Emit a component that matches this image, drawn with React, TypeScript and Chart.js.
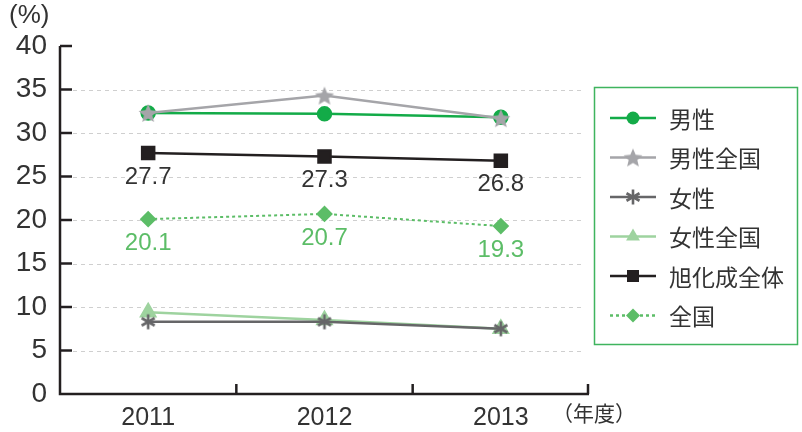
import React, { useEffect, useRef } from "react";
import { Chart, registerables } from "chart.js";
import { drawPoint } from "chart.js/helpers";

Chart.register(...registerables);

const years = ["2011", "2012", "2013"];
const maleValues = [32.3, 32.2, 31.8];
const maleNationalValues = [32.3, 34.3, 31.7];
const femaleValues = [8.3, 8.3, 7.5];
const femaleNationalValues = [9.4, 8.5, 7.5];
const asahiTotalValues = [27.7, 27.3, 26.8];
const nationalValues = [20.1, 20.7, 19.3];
const yTicks = [0, 5, 10, 15, 20, 25, 30, 35, 40];

const FONT = "'Liberation Sans', 'Noto Sans CJK JP', sans-serif";
const CJK = "'Noto Sans CJK JP', sans-serif";

function makeStar(color: string) {
  const c = document.createElement("canvas");
  const s = 22;
  c.width = s;
  c.height = s;
  const ctx = c.getContext("2d")!;
  ctx.fillStyle = color;
  ctx.beginPath();
  for (let i = 0; i < 10; i++) {
    const r = i % 2 === 0 ? 10 : 4.5;
    const a = -Math.PI / 2 + (i * Math.PI) / 5;
    const x = s / 2 + r * Math.cos(a);
    const y = s / 2 + 1 + r * Math.sin(a);
    if (i === 0) ctx.moveTo(x, y);
    else ctx.lineTo(x, y);
  }
  ctx.closePath();
  ctx.fill();
  return c;
}

function makeAsterisk(color: string) {
  const c = document.createElement("canvas");
  const s = 18;
  c.width = s;
  c.height = s;
  const ctx = c.getContext("2d")!;
  ctx.strokeStyle = color;
  ctx.lineWidth = 2.6;
  ctx.lineCap = "butt";
  for (let i = 0; i < 3; i++) {
    const a = Math.PI / 2 + (i * Math.PI) / 3;
    const r = 7.5;
    ctx.beginPath();
    ctx.moveTo(s / 2 + r * Math.cos(a), s / 2 + r * Math.sin(a));
    ctx.lineTo(s / 2 - r * Math.cos(a), s / 2 - r * Math.sin(a));
    ctx.stroke();
  }
  return c;
}

export default function App() {
  const ref = useRef<HTMLCanvasElement | null>(null);

  useEffect(() => {
    if (!ref.current) return;
    const star = makeStar("#a5a5a9");
    const asterisk = makeAsterisk("#666668");

    const datasets: any[] = [
      {
        label: "男性",
        data: maleValues,
        borderColor: "#13ab48",
        backgroundColor: "#13ab48",
        borderWidth: 2.5,
        pointStyle: "circle",
        pointRadius: 6.5,
        order: 2,
      },
      {
        label: "男性全国",
        data: maleNationalValues,
        borderColor: "#a5a5a9",
        backgroundColor: "#a5a5a9",
        borderWidth: 2.5,
        pointStyle: star,
        pointRadius: 9,
        order: 1,
      },
      {
        label: "女性",
        data: femaleValues,
        borderColor: "#666668",
        backgroundColor: "#666668",
        borderWidth: 2.5,
        pointStyle: asterisk,
        pointRadius: 8,
        order: 0,
      },
      {
        label: "女性全国",
        data: femaleNationalValues,
        borderColor: "#9ed39f",
        backgroundColor: "#9ed39f",
        borderWidth: 2.5,
        pointStyle: "triangle",
        pointRadius: 8,
        order: 3,
      },
      {
        label: "旭化成全体",
        data: asahiTotalValues,
        borderColor: "#231f20",
        backgroundColor: "#231f20",
        borderWidth: 2.5,
        pointStyle: "rect",
        pointRadius: 8.5,
        order: 4,
      },
      {
        label: "全国",
        data: nationalValues,
        borderColor: "#5cbd67",
        backgroundColor: "#5cbd67",
        borderWidth: 2,
        borderDash: [3, 3],
        pointStyle: "rectRot",
        pointRadius: 7,
        order: 5,
      },
    ];

    const decor = {
      id: "decor",
      beforeDatasetsDraw(chart: any) {
        const ctx = chart.ctx;
        const y = chart.scales.y;
        const area = chart.chartArea;
        ctx.save();
        ctx.strokeStyle = "#cfcfcf";
        ctx.lineWidth = 1;
        ctx.setLineDash([4, 4]);
        yTicks.forEach((v) => {
          if (v === 0 || v === 40) return;
          const py = Math.round(y.getPixelForValue(v)) + 0.5;
          ctx.beginPath();
          ctx.moveTo(area.left + 13, py);
          ctx.lineTo(area.right - 4, py);
          ctx.stroke();
        });
        ctx.restore();
      },
      afterDatasetsDraw(chart: any) {
        const ctx = chart.ctx;
        const y = chart.scales.y;
        const x = chart.scales.x;
        const area = chart.chartArea;
        ctx.save();
        // axes
        ctx.strokeStyle = "#231f20";
        ctx.lineWidth = 2.5;
        ctx.setLineDash([]);
        ctx.beginPath();
        ctx.moveTo(area.left, y.getPixelForValue(40));
        ctx.lineTo(area.left, area.bottom);
        ctx.lineTo(area.right, area.bottom);
        ctx.stroke();
        yTicks.forEach((v) => {
          const py = y.getPixelForValue(v);
          if (v === 0) return;
          ctx.beginPath();
          ctx.moveTo(area.left, py);
          ctx.lineTo(area.left + 12, py);
          ctx.stroke();
        });
        for (let i = 0; i < years.length; i++) {
          const bx =
            i + 1 < years.length
              ? (x.getPixelForValue(i) + x.getPixelForValue(i + 1)) / 2
              : area.right - 1;
          ctx.beginPath();
          ctx.moveTo(bx, area.bottom);
          ctx.lineTo(bx, area.bottom - 10);
          ctx.stroke();
        }

        // value labels
        ctx.font = `24px ${FONT}`;
        ctx.textAlign = "center";
        ctx.textBaseline = "middle";
        const labelSets: [number, string][] = [
          [4, "#333333"],
          [5, "#5cbd67"],
        ];
        labelSets.forEach(([di, color]) => {
          const meta = chart.getDatasetMeta(di);
          ctx.fillStyle = color;
          meta.data.forEach((pt: any, i: number) => {
            const v = chart.data.datasets[di].data[i];
            ctx.fillText(v.toFixed(1), pt.x, pt.y + 24);
          });
        });

        // titles
        ctx.fillStyle = "#333333";
        ctx.textAlign = "left";
        ctx.font = `26px ${FONT}`;
        ctx.fillText("(%)", 9, 16);
        ctx.font = `21px ${CJK}`;
        ctx.fillText("（年度）", 552, 413);

        // legend
        ctx.strokeStyle = "#3fb45e";
        ctx.lineWidth = 1.5;
        ctx.strokeRect(594.5, 87.5, 203, 257);
        chart.data.datasets.forEach((ds: any, i: number) => {
          const cy = 118 + i * 39.5;
          ctx.strokeStyle = ds.borderColor;
          ctx.lineWidth = 2.5;
          ctx.setLineDash(ds.borderDash || []);
          ctx.beginPath();
          ctx.moveTo(610, cy);
          ctx.lineTo(656, cy);
          ctx.stroke();
          ctx.setLineDash([]);
          ctx.fillStyle = ds.backgroundColor;
          drawPoint(
            ctx,
            { pointStyle: ds.pointStyle, radius: ds.pointRadius, rotation: 0, borderWidth: 0 } as any,
            633,
            cy
          );
          ctx.fillStyle = "#333333";
          ctx.font = `23px ${CJK}`;
          ctx.textAlign = "left";
          ctx.textBaseline = "middle";
          ctx.fillText(ds.label, 669, cy + 1);
        });
        ctx.restore();
      },
    };

    const chart = new Chart(ref.current, {
      type: "line",
      data: { labels: years, datasets },
      options: {
        animation: false,
        responsive: false,
        layout: { padding: { left: 0, top: 46, right: 213, bottom: 0 } },
        plugins: { legend: { display: false }, tooltip: { enabled: false } },
        scales: {
          x: {
            offset: true,
            grid: { display: false, drawTicks: false },
            border: { display: false },
            ticks: { font: { size: 25, family: FONT }, color: "#333333", padding: 9 },
            afterFit: (s: any) => {
              s.height = 38;
            },
          },
          y: {
            min: 0,
            max: 40,
            grid: { display: false, drawTicks: false },
            border: { display: false },
            ticks: {
              stepSize: 5,
              font: { size: 28, family: FONT },
              color: "#333333",
              padding: 13,
            },
            afterFit: (s: any) => {
              s.width = 60;
            },
          },
        },
      },
      plugins: [decor],
    });
    return () => chart.destroy();
  }, []);

  return (
    <div style={{ position: "fixed", left: 0, top: 0, width: 802, height: 432, background: "#fff" }}>
      <canvas ref={ref} width={802} height={432} style={{ width: 802, height: 432 }} />
    </div>
  );
}
